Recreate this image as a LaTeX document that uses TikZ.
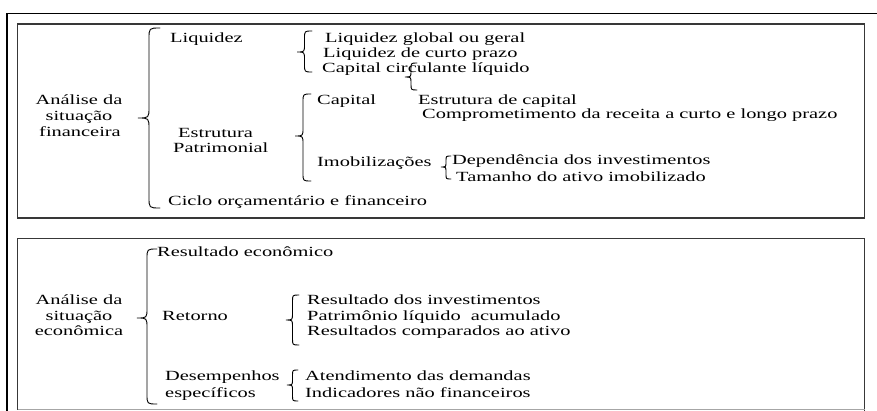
\documentclass[tikz,border=0pt]{standalone}
\usepackage{fontspec}
\setmainfont[FakeStretch=1.457]{Liberation Serif}
% #1 x of the ends, #2 top y, #3 bottom y, #4 tip y, #5 width
\newcommand{\vbrace}[5]{%
 \draw[bracestyle] (#1,#2) .. controls ({#1-#5/2},#2) .. ({#1-#5/2},{#2+#5/2})
  -- ({#1-#5/2},{#4-#5/2}) .. controls ({#1-#5/2},#4) .. ({#1-#5},#4)
  .. controls ({#1-#5/2},#4) .. ({#1-#5/2},{#4+#5/2})
  -- ({#1-#5/2},{#3-#5/2}) .. controls ({#1-#5/2},#3) .. (#1,#3);}
\begin{document}
\begin{tikzpicture}[x=1pt,y=-1pt,
  txt/.style={anchor=base west, inner sep=0pt, font=\fontsize{14}{16}\selectfont},
  ctxt/.style={anchor=base, inner sep=0pt, font=\fontsize{14}{16}\selectfont},
  bracestyle/.style={line width=0.9pt, line cap=round},
  boxline/.style={draw=black!78, line width=1.3pt}]
\useasboundingbox (0,0) rectangle (877,411);
% outer frame
\draw[line width=1.5pt] (877,13.5) -- (7,13.5) -- (7,411);
% boxes
\draw[boxline] (17.5,24) rectangle (864.5,218);
\draw[boxline] (17.5,409.5) -- (17.5,238.5) -- (864.5,238.5) -- (864.5,411);
\draw[draw=black!35, line width=1pt] (17.5,409.5) -- (864.5,409.5);

% ---- box 1 ----
\node[ctxt] (f1) at (79,105) {Análise da};
\node[ctxt] (f2) at (79,121) {situação};
\node[ctxt] (f3) at (80,137) {financeira};
\vbrace{160}{28}{208}{118}{22}

\node[txt] (liq) at (170,43) {Liquidez};
\node[txt] (est1) at (178,138) {Estrutura};
\node[txt] (est2) at (173,153) {Patrimonial};
\node[txt] (cic) at (168,206) {Ciclo orçamentário e financeiro};

\vbrace{312}{31}{72}{52}{15}
\node[txt] (l1) at (325,43) {Liquidez global ou geral};
\node[txt] (l2) at (323,58) {Liquidez de curto prazo};
\node[txt] (l3) at (322,73) {Capital circulante líquido};
\vbrace{417}{63}{90}{77}{12}

\vbrace{311}{94}{181}{136}{16}
\node[txt] (cap) at (317,105) {Capital};
\node[txt] (c1) at (418,105) {Estrutura de capital};
\node[txt] (c2) at (422,119) {Comprometimento da receita a curto e longo prazo};
\node[txt] (imo) at (317,167) {Imobilizações};
\vbrace{451}{156}{179}{167}{10}
\node[txt] (i1) at (452,165) {Dependência dos investimentos};
\node[txt] (i2) at (456,182) {Tamanho do ativo imobilizado};

% ---- box 2 ----
\node[ctxt] (e1) at (79,305) {Análise da};
\node[ctxt] (e2) at (79,320) {situação};
\node[ctxt] (e3) at (79,335) {econômica};
\vbrace{157}{249}{404}{318}{20}

\node[txt] (re) at (157,257) {Resultado econômico};
\node[txt] (ret) at (162,320) {Retorno};
\node[txt] (d1) at (165,380) {Desempenhos};
\node[txt] (d2) at (165,397) {específicos};

\vbrace{299}{295}{345}{320}{13}
\node[txt] (r1) at (307,305) {Resultado dos investimentos};
\node[txt] (r2) at (307,320) {Patrimônio líquido\ \ acumulado};
\node[txt] (r3) at (307,335) {Resultados comparados ao ativo};

\vbrace{298}{370}{401}{385}{11}
\node[txt] (a1) at (305,380) {Atendimento das demandas};
\node[txt] (a2) at (305,397) {Indicadores não financeiros};
\end{tikzpicture}
\end{document}
